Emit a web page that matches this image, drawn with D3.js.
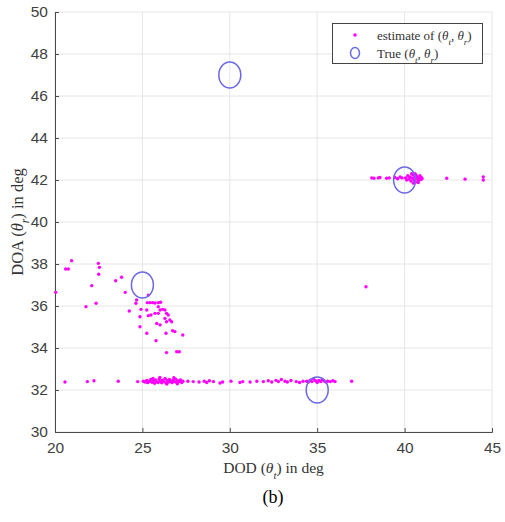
<!DOCTYPE html>
<html>
<head>
<meta charset="utf-8">
<script src="https://cdn.jsdelivr.net/npm/d3@7"></script>
<style>
  body { margin: 0; background: #fff; }
</style>
</head>
<body>
<script>
// true positions (DOD, DOA)
const trueDOD = [25, 30, 35, 40];
const trueDOA = [37, 47, 32, 42];

// estimates, grouped by cluster
const estScatter = [
  [20.04,36.65],[20.61,37.76],[20.76,37.76],[20.95,38.16],[22.48,38.03],[22.54,37.84],
  [22.5,37.51],[22.1,36.97],[21.77,35.97],[22.35,36.13],[23.47,37.2],[23.81,37.37],
  [24.02,36.65],[24.25,35.76],[24.67,36.29],[24.63,36.13],[24.86,35.01],[24.92,35.84],
  [24.86,35.49],[25.25,35.81],[25.25,34.7],[25.34,35.54],[25.49,35.57],[25.34,36.52],
  [25.28,36.16],[25.43,36.16],[25.59,36.16],[25.72,36.14],[25.91,36.16],[26.04,36.18],
  [25.91,35.97],[26.01,35.81],[25.72,35.65],[25.91,35.65],[25.82,35.17],[26.01,35.1],
  [26.16,35.84],[26.29,35.81],[26.38,35.65],[26.48,35.57],[26.29,35.41],[26.38,35.25],
  [26.57,35.33],[26.67,35.25],[25.78,34.35],[26.35,34.7],[26.38,33.78],[26.73,34.82],
  [26.86,34.78],[27.31,34.62],[26.96,33.82],[27.11,33.82],[37.79,36.92]
];

const estLowRow = [
  [20.57,32.38],[21.85,32.4],[22.23,32.44],[23.62,32.42],[24.73,32.4],
  [25.05,32.42],[25.15,32.38],[25.25,32.45],[25.3,32.35],[25.4,32.42],[25.48,32.5],
  [25.55,32.37],[25.62,32.44],[25.7,32.32],[25.75,32.48],[25.82,32.4],[25.9,32.36],
  [25.95,32.52],[26.02,32.43],[26.1,32.34],[26.15,32.47],[26.22,32.4],[26.3,32.55],
  [26.35,32.33],[26.42,32.45],[26.5,32.38],[26.55,32.5],[26.62,32.42],[26.7,32.35],
  [26.75,32.47],[26.82,32.4],[26.9,32.52],[26.95,32.37],[27.02,32.44],[27.1,32.4],
  [27.18,32.48],[27.25,32.36],[27.32,32.42],[26.0,32.6],[26.4,32.28],[26.8,32.58],
  [25.6,32.55],[27.0,32.3],[27.6,32.42],
  [27.91,32.4],[28.24,32.38],[28.54,32.42],[28.68,32.36],[28.83,32.44],[29.06,32.4],
  [29.44,32.33],[29.59,32.38],[30.07,32.42],[30.58,32.36],[30.74,32.4],[31.16,32.38],
  [31.55,32.42],[31.92,32.4],[32.2,32.44],[32.4,32.38],[32.64,32.46],[32.78,32.4],
  [32.95,32.5],[33.16,32.42],[33.29,32.38],[33.5,32.45],[33.8,32.4],[33.99,32.36],
  [34.19,32.42],
  [34.4,32.42],[34.5,32.38],[34.6,32.47],[34.7,32.4],[34.8,32.52],[34.9,32.44],
  [35.0,32.36],[35.1,32.46],[35.2,32.4],[35.3,32.5],[35.4,32.43],[35.5,32.38],
  [35.6,32.42],[35.75,32.4],[35.9,32.44],[36.02,32.4],[36.97,32.42]
];

const estHighRow = [
  [38.12,42.1],[38.25,42.08],[38.5,42.1],[38.59,42.12],[38.97,42.08],[39.12,42.1],
  [39.45,42.12],[39.6,42.06],[39.74,42.14],[39.85,42.1],
  [40.05,42.1],[40.12,42.0],[40.18,42.2],[40.25,42.05],[40.3,42.15],[40.36,41.95],
  [40.42,42.1],[40.48,42.25],[40.52,42.0],[40.58,42.12],[40.62,41.9],[40.66,42.22],
  [40.7,42.05],[40.75,42.15],[40.8,41.98],[40.84,42.1],[40.88,42.2],[40.92,42.02],
  [40.96,42.12],[41.0,42.06],[40.4,42.3],[40.6,42.3],[40.5,41.85],[40.78,41.88],
  [42.41,42.08],[43.46,42.04],[44.5,42.0],[44.5,42.15]
];

const xTicks = [20, 25, 30, 35, 40, 45];
const yTicks = [30, 32, 34, 36, 38, 40, 42, 44, 46, 48, 50];

function main(){
  let width = 505, height = 522;
  let left = 55, right = 492, top = 12, bottom = 432;

  var svg = d3.select('body').append('svg')
    .attr('width', width)
    .attr('height', height);

  var x = d3.scaleLinear().domain([20, 45]).range([left, right]);
  var y = d3.scaleLinear().domain([30, 50]).range([bottom, top]);

  // grid
  svg.append('g').selectAll('line').data(xTicks).enter().append('line')
    .attr('x1', d => x(d)).attr('x2', d => x(d))
    .attr('y1', top).attr('y2', bottom)
    .attr('stroke', '#e6e6e6').attr('stroke-width', 1);
  svg.append('g').selectAll('line').data(yTicks).enter().append('line')
    .attr('x1', left).attr('x2', right)
    .attr('y1', d => y(d)).attr('y2', d => y(d))
    .attr('stroke', '#e6e6e6').attr('stroke-width', 1);

  // axes, ticks inward
  var xAxis = svg.append('g')
    .attr('transform', `translate(0,${bottom})`)
    .call(d3.axisBottom(x).tickValues(xTicks).tickSize(-4).tickPadding(10));
  var yAxis = svg.append('g')
    .attr('transform', `translate(${left},0)`)
    .call(d3.axisLeft(y).tickValues(yTicks).tickSize(-4).tickPadding(7));
  [xAxis, yAxis].forEach(function(a){
    a.select('.domain').attr('stroke', '#4a4a4a');
    a.selectAll('.tick line').attr('stroke', '#4a4a4a');
    a.selectAll('.tick text')
      .attr('fill', '#3f3f3f')
      .style('font-family', '"Liberation Sans", Arial, sans-serif')
      .style('font-size', '15.5px');
  });

  // estimates
  var est = estScatter.concat(estLowRow, estHighRow);
  svg.append('g').selectAll('circle').data(est).enter().append('circle')
    .attr('cx', d => x(d[0]))
    .attr('cy', d => y(d[1]))
    .attr('r', 1.7)
    .attr('fill', '#ff00ff');

  // true values
  svg.append('g').selectAll('ellipse').data(trueDOD).enter().append('ellipse')
    .attr('cx', d => x(d))
    .attr('cy', (d, i) => y(trueDOA[i]))
    .attr('rx', 11).attr('ry', 13)
    .attr('fill', 'none')
    .attr('stroke', '#6a6ae6')
    .attr('stroke-width', 1.5);

  // labels
  var serif = '"Liberation Serif", "Times New Roman", serif';
  function theta(t, sub){
    t.append('tspan').style('font-style', 'italic').text('θ');
    t.append('tspan').attr('baseline-shift', 'sub').style('font-size', '70%')
      .style('font-style', 'italic').text(sub);
  }

  var xt = svg.append('text')
    .attr('x', (left + right) / 2).attr('y', 473)
    .attr('text-anchor', 'middle')
    .style('font-family', serif).style('font-size', '15.5px').attr('fill', '#333');
  xt.append('tspan').text('DOD (');
  theta(xt, 't');
  xt.append('tspan').text(') in deg');

  var yt = svg.append('text')
    .attr('transform', `translate(23,${(top + bottom) / 2}) rotate(-90)`)
    .attr('text-anchor', 'middle')
    .style('font-family', serif).style('font-size', '16.5px').attr('fill', '#333');
  yt.append('tspan').text('DOA (');
  theta(yt, 'r');
  yt.append('tspan').text(') in deg');

  svg.append('text')
    .attr('x', 273).attr('y', 503)
    .attr('text-anchor', 'middle')
    .style('font-family', serif).style('font-size', '18px').attr('fill', '#000')
    .text('(b)');

  // legend
  var lg = svg.append('g');
  lg.append('rect')
    .attr('x', 332.5).attr('y', 23.5).attr('width', 150).attr('height', 40)
    .attr('fill', '#fff').attr('stroke', '#444').attr('stroke-width', 1);
  lg.append('circle').attr('cx', 355).attr('cy', 35).attr('r', 1.8).attr('fill', '#ff00ff');
  lg.append('ellipse').attr('cx', 355).attr('cy', 53).attr('rx', 4.5).attr('ry', 5.5)
    .attr('fill', 'none').attr('stroke', '#6a6ae6').attr('stroke-width', 1.5);
  var l1 = lg.append('text').attr('x', 377).attr('y', 40)
    .style('font-family', serif).style('font-size', '13px').attr('fill', '#333');
  l1.append('tspan').text('estimate of (');
  theta(l1, 't');
  l1.append('tspan').text(', ');
  theta(l1, 'r');
  l1.append('tspan').text(')');
  var l2 = lg.append('text').attr('x', 377).attr('y', 58)
    .style('font-family', serif).style('font-size', '13px').attr('fill', '#333');
  l2.append('tspan').text('True (');
  theta(l2, 't');
  l2.append('tspan').text(', ');
  theta(l2, 'r');
  l2.append('tspan').text(')');
}
main();
</script>
</body>
</html>
